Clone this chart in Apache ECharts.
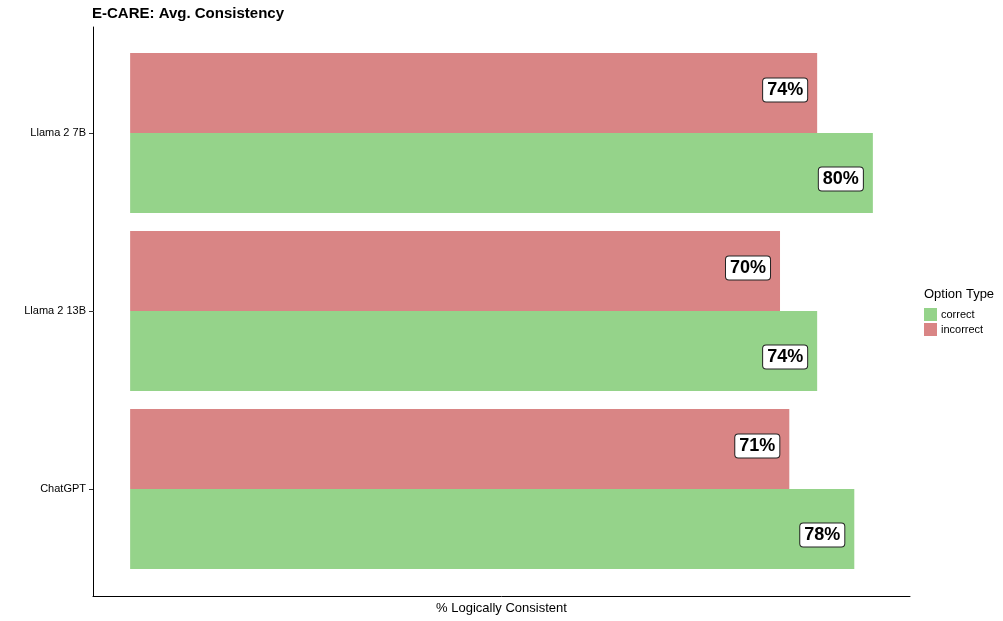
<!DOCTYPE html>
<html>
<head>
<meta charset="utf-8">
<style>
  html, body { margin: 0; padding: 0; background: #fff; }
  #main { width: 1003px; height: 621px; }
</style>
<script src="https://cdn.jsdelivr.net/npm/echarts@6/dist/echarts.min.js"></script>
</head>
<body>
<div id="main"></div>
<script>
// models, bottom to top
var models = ['ChatGPT', 'Llama 2 13B', 'Llama 2 7B'];
var correctVals = [78, 74, 80];
var incorrectVals = [71, 70, 74];
var optionTypes = ['correct', 'incorrect'];

var FONT = '"Liberation Sans", Arial, Helvetica, sans-serif';
var GREEN = '#95d38a';
var RED = '#d98585';

function labelFor(dy) {
    return {
        show: true,
        position: 'insideRight',
        distance: 10,
        offset: [0, dy],
        formatter: function (p) { return p.value + '%'; },
        fontFamily: FONT,
        fontWeight: 'bold',
        fontSize: 18,
        color: '#000',
        backgroundColor: '#fff',
        borderColor: '#222',
        borderWidth: 1,
        borderRadius: 3,
        padding: [3, 4, 2, 4]
    };
}

var chart = echarts.init(document.getElementById('main'));
chart.setOption({
    animation: false,
    title: [
        { text: 'E-CARE: Avg. Consistency', left: 87, top: 1,
          textStyle: { fontFamily: FONT, fontWeight: 'bold', fontSize: 15, color: '#000' } },
        { text: 'Option Type', left: 919, top: 283,
          textStyle: { fontFamily: FONT, fontWeight: 'normal', fontSize: 13, color: '#000' } }
    ],
    legend: {
        data: optionTypes,
        orient: 'vertical',
        left: 919, top: 303,
        itemWidth: 13, itemHeight: 13, itemGap: 2,
        icon: 'rect',
        textStyle: { fontFamily: FONT, fontSize: 11, color: '#000', padding: [0, 0, 0, -1] }
    },
    grid: [
        { left: 93, right: 93, top: 44, bottom: 43, outerBoundsMode: 'none' },
        { left: 93, right: 93, top: 27, bottom: 25, outerBoundsMode: 'none' }
    ],
    xAxis: [
        { gridIndex: 0, type: 'value', min: -4, max: 84, show: false },
        { gridIndex: 1, type: 'value', min: 0, max: 1,
          axisLine: { show: true, onZero: false, lineStyle: { color: '#000', width: 1 } },
          axisTick: { show: false }, axisLabel: { show: false }, splitLine: { show: false },
          name: '% Logically Consistent', nameLocation: 'middle', nameGap: 6,
          nameTextStyle: { fontFamily: FONT, fontSize: 13, color: '#000' } }
    ],
    yAxis: [
        { gridIndex: 0, type: 'category', data: models,
          axisLine: { show: false, onZero: false },
          axisTick: { show: true, alignWithLabel: true, length: 4, lineStyle: { color: '#333' } },
          axisLabel: { fontFamily: FONT, fontSize: 11, color: '#000', margin: 7 },
          splitLine: { show: false } },
        { gridIndex: 1, type: 'value', min: 0, max: 1,
          axisLine: { show: true, onZero: false, lineStyle: { color: '#000', width: 1 } },
          axisTick: { show: false }, axisLabel: { show: false }, splitLine: { show: false } }
    ],
    series: [
        { name: 'incorrect', type: 'bar', xAxisIndex: 0, yAxisIndex: 0,
          data: incorrectVals, barWidth: 80, barGap: '0%',
          itemStyle: { color: RED }, label: labelFor(-3) },
        { name: 'correct', type: 'bar', xAxisIndex: 0, yAxisIndex: 0,
          data: correctVals, barWidth: 80, barGap: '0%',
          itemStyle: { color: GREEN }, label: labelFor(6) }
    ]
});
</script>
</body>
</html>
